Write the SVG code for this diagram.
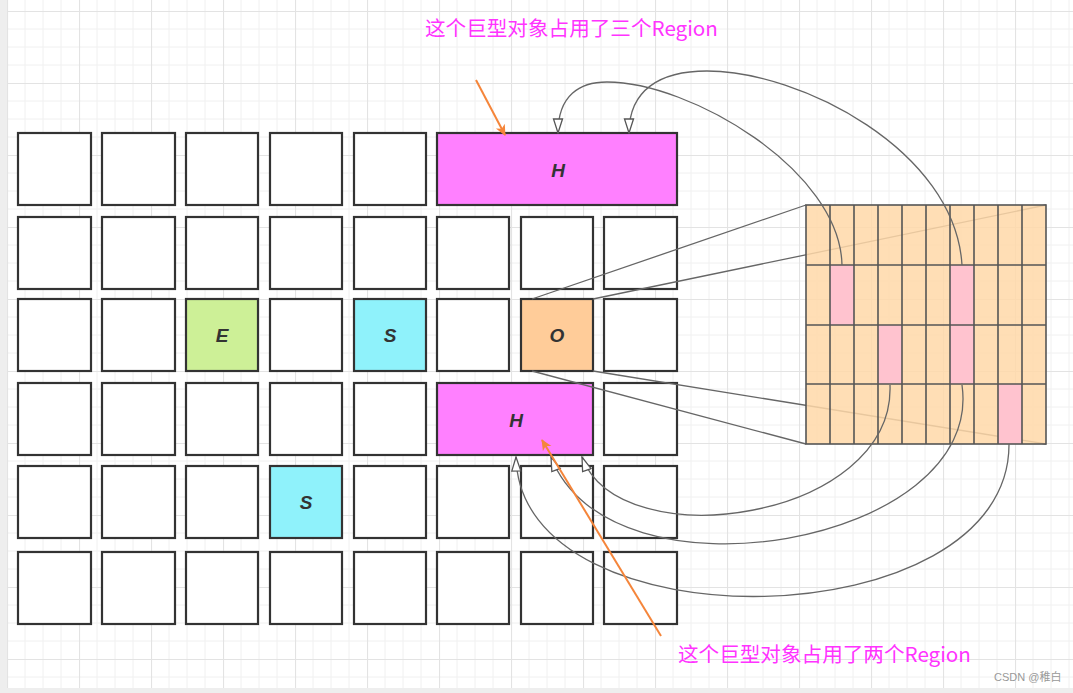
<svg xmlns="http://www.w3.org/2000/svg" width="1073" height="693" viewBox="0 0 1073 693">
<defs>
<pattern id="grid" x="7" y="11" width="72" height="72" patternUnits="userSpaceOnUse">
<path d="M18 0V72M36 0V72M54 0V72M0 18H72M0 36H72M0 54H72" stroke="#f0f0f0" stroke-width="1" fill="none"/>
<path d="M0.5 0V72M0 0.5H72" stroke="#e3e3e3" stroke-width="1.2" fill="none"/>
</pattern>
<marker id="hollow" viewBox="0 0 16 12" refX="15" refY="6" markerWidth="16" markerHeight="12" markerUnits="userSpaceOnUse" orient="auto">
<path d="M1 1.5L15 6L1 10.5Z" fill="#fff" stroke="#555" stroke-width="1.3"/>
</marker>
<marker id="orange" viewBox="0 0 12 12" refX="10" refY="6" markerWidth="12" markerHeight="12" markerUnits="userSpaceOnUse" orient="auto">
<path d="M0 1L11 6L0 11L3 6Z" fill="#f5853a"/>
</marker>
<style>
.b{fill:#fff;stroke:#333;stroke-width:2.2}
.h{fill:#ff80ff;stroke:#333;stroke-width:2.2}
.e{fill:#cdf097;stroke:#333;stroke-width:2.2}
.s{fill:#8ff2fb;stroke:#333;stroke-width:2.2}
.o{fill:#ffcc99;stroke:#333;stroke-width:2.2}
.lbl{font-family:"Liberation Sans",Arial,sans-serif;font-weight:bold;font-style:italic;font-size:19px;fill:#333;text-anchor:middle}
.c{fill:none;stroke:#666;stroke-width:1.3}
.ca{fill:none;stroke:#666;stroke-width:1.3;marker-end:url(#hollow)}
.oa{fill:none;stroke:#f5853a;stroke-width:2;marker-end:url(#orange)}
.cn{font-family:"Noto Sans CJK SC","Noto Sans",sans-serif;font-size:20.6px;fill:#ff33ff}
</style>
</defs>
<rect width="1073" height="693" fill="#fff"/>
<rect x="7" y="0" width="1066" height="688" fill="url(#grid)"/>
<rect x="0" y="0" width="7" height="693" fill="#eeeeee"/>
<rect x="0" y="688" width="1073" height="5" fill="#eeeeee"/>

<g id="row1">
<rect class="b" x="18" y="133" width="73" height="72"/>
<rect class="b" x="102" y="133" width="73" height="72"/>
<rect class="b" x="186" y="133" width="72" height="72"/>
<rect class="b" x="270" y="133" width="72" height="72"/>
<rect class="b" x="354" y="133" width="72" height="72"/>
</g>
<g id="h-top">
<rect class="h" x="437" y="133" width="240" height="72"/>
<text class="lbl" x="558" y="177">H</text>
</g>
<g id="row2">
<rect class="b" x="18" y="217" width="73" height="72"/>
<rect class="b" x="102" y="217" width="73" height="72"/>
<rect class="b" x="186" y="217" width="72" height="72"/>
<rect class="b" x="270" y="217" width="72" height="72"/>
<rect class="b" x="354" y="217" width="72" height="72"/>
<rect class="b" x="437" y="217" width="72" height="72"/>
<rect class="b" x="521" y="217" width="72" height="72"/>
<rect class="b" x="604" y="217" width="73" height="72"/>
</g>
<g id="row3">
<rect class="b" x="18" y="299" width="73" height="72"/>
<rect class="b" x="102" y="299" width="73" height="72"/>
<rect class="b" x="270" y="299" width="72" height="72"/>
<rect class="b" x="437" y="299" width="72" height="72"/>
<rect class="b" x="604" y="299" width="73" height="72"/>
</g>
<g id="eden">
<rect class="e" x="186" y="299" width="72" height="72"/>
<text class="lbl" x="222" y="342">E</text>
</g>
<g id="surv1">
<rect class="s" x="354" y="299" width="72" height="72"/>
<text class="lbl" x="390" y="342">S</text>
</g>
<g id="old">
<rect class="o" x="521" y="299" width="72" height="72"/>
<text class="lbl" x="557" y="342">O</text>
</g>
<g id="row4">
<rect class="b" x="18" y="383" width="73" height="72"/>
<rect class="b" x="102" y="383" width="73" height="72"/>
<rect class="b" x="186" y="383" width="72" height="72"/>
<rect class="b" x="270" y="383" width="72" height="72"/>
<rect class="b" x="354" y="383" width="72" height="72"/>
<rect class="b" x="604" y="383" width="73" height="72"/>
</g>
<g id="h-bottom">
<rect class="h" x="437" y="383" width="156" height="72"/>
<text class="lbl" x="516" y="427">H</text>
</g>
<g id="row5">
<rect class="b" x="18" y="466" width="73" height="72"/>
<rect class="b" x="102" y="466" width="73" height="72"/>
<rect class="b" x="186" y="466" width="72" height="72"/>
<rect class="b" x="354" y="466" width="72" height="72"/>
<rect class="b" x="437" y="466" width="72" height="72"/>
<rect class="b" x="521" y="466" width="72" height="72"/>
<rect class="b" x="604" y="466" width="73" height="72"/>
</g>
<g id="surv2">
<rect class="s" x="270" y="466" width="72" height="72"/>
<text class="lbl" x="306" y="509">S</text>
</g>
<g id="row6">
<rect class="b" x="18" y="552" width="73" height="72"/>
<rect class="b" x="102" y="552" width="73" height="72"/>
<rect class="b" x="186" y="552" width="72" height="72"/>
<rect class="b" x="270" y="552" width="72" height="72"/>
<rect class="b" x="354" y="552" width="72" height="72"/>
<rect class="b" x="437" y="552" width="72" height="72"/>
<rect class="b" x="521" y="552" width="72" height="72"/>
<rect class="b" x="604" y="552" width="73" height="72"/>
</g>

<g id="connectors">
<line class="c" x1="532" y1="299" x2="806" y2="205"/>
<line class="c" x1="593" y1="299" x2="1046" y2="205"/>
<line class="c" x1="532" y1="371" x2="806" y2="444"/>
<line class="c" x1="593" y1="371" x2="1046" y2="444"/>
</g>

<g id="old-detail">
<rect x="806" y="205" width="240" height="239" fill="#ffd8a8" fill-opacity="0.85" stroke="none"/>
<rect x="830" y="265" width="24" height="60" fill="#ffc3cf"/>
<rect x="950" y="265" width="24" height="60" fill="#ffc3cf"/>
<rect x="878" y="325" width="24" height="59" fill="#ffc3cf"/>
<rect x="950" y="325" width="24" height="59" fill="#ffc3cf"/>
<rect x="998" y="384" width="24" height="60" fill="#ffc3cf"/>
<path d="M830 205V444M854 205V444M878 205V444M902 205V444M926 205V444M950 205V444M974 205V444M998 205V444M1022 205V444M806 265H1046M806 325H1046M806 384H1046" stroke="#555" stroke-width="1.6" fill="none"/>
<rect x="806" y="205" width="240" height="239" fill="none" stroke="#555" stroke-width="1.6"/>
</g>

<g id="curves">
<path class="ca" d="M842 265C840 170 690 82 607 82C580 82 558 95 558 133"/>
<path class="ca" d="M962 265C955 150 800 71 707 71C660 71 629 90 629 133"/>
<path class="ca" d="M890 385C895 520 620 560 582 457"/>
<path class="ca" d="M962 385C985 545 610 610 551 457"/>
<path class="ca" d="M1009 444C1010 640 520 650 516 457"/>
</g>

<g id="annotations">
<line class="oa" x1="476" y1="80" x2="505" y2="135"/>
<line class="oa" x1="661" y1="636" x2="542" y2="440"/>
<text class="cn" x="425" y="36">这个巨型对象占用了三个Region</text>
<text class="cn" x="678" y="662">这个巨型对象占用了两个Region</text>
<text x="994" y="681" font-family="'Liberation Sans','Noto Sans CJK SC',sans-serif" font-size="11" fill="#999">CSDN @稚白</text>
</g>
</svg>
